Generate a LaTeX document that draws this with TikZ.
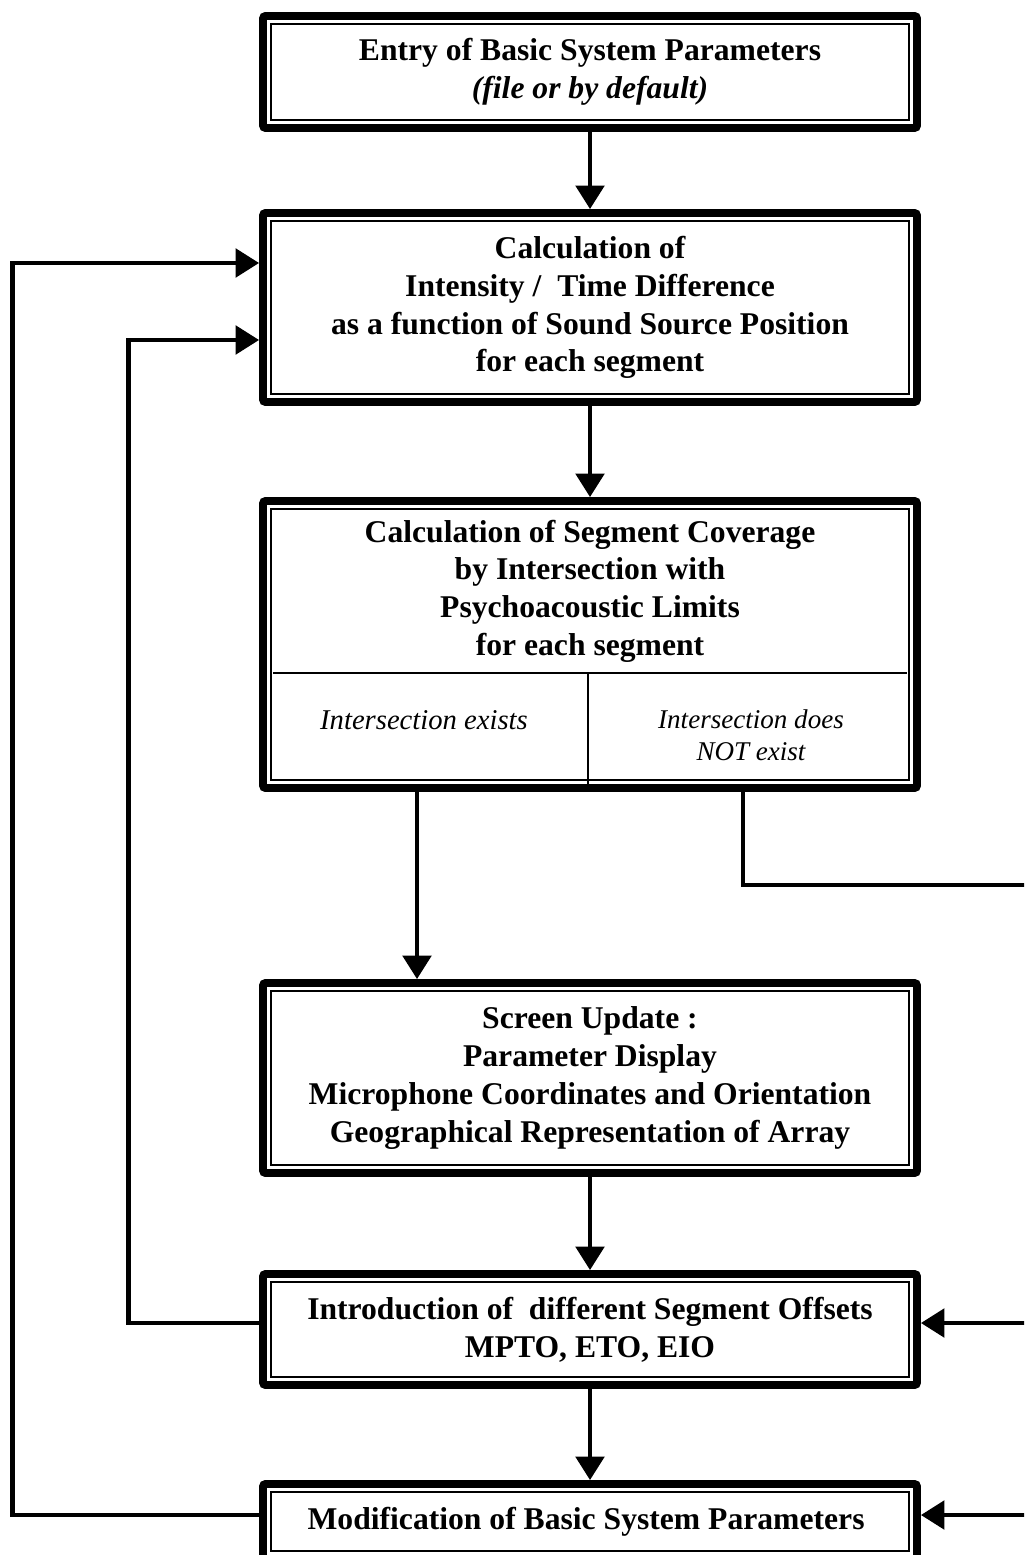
\documentclass[tikz,border=0pt]{standalone}
\usepackage{fontspec}
\setmainfont{Liberation Serif}
\usetikzlibrary{arrows.meta, positioning, calc}

\begin{document}
\begin{tikzpicture}[
    % styles
    stage/.style={
        draw, line width=4.5pt, rounded corners=1.5pt, fill=white, align=center,
        inner sep=0pt, minimum width=13.08cm,
        font=\fontsize{18}{21.5}\selectfont\bfseries,
        path picture={
            \draw[line width=0.8pt, sharp corners]
                ([shift={(4.5pt,-4.5pt)}]path picture bounding box.north west) rectangle
                ([shift={(-4.5pt,4.5pt)}]path picture bounding box.south east);
        }
    },
    title_text/.style={
        align=center, font=\fontsize{18}{21.5}\selectfont\bfseries
    },
    cell_text/.style={
        align=center, font=\fontsize{16.3}{18.5}\selectfont\itshape
    },
    divider/.style={
        line width=0.9pt
    },
    flow/.style={
        -{Triangle[length=0.47cm, width=0.57cm]}, line width=2.3pt
    },
    rail/.style={
        line width=2.3pt
    }
]

    % --- canvas ---
    \useasboundingbox (0,0) rectangle (20.48,-31.1);
    \clip (0,0) rectangle (20.48,-31.1);

    % --- 1. PARAMETER ENTRY ---
    \node[stage, minimum height=2.24cm] (entry) at (11.8,-1.44) {
        Entry of Basic System Parameters\\
        \textit{(file or by default)}
    };

    % --- 2. INTENSITY / TIME CALCULATION ---
    \node[stage, minimum height=3.78cm] (calc) at (11.8,-6.15) {
        Calculation of\\
        Intensity /\enspace Time Difference\\
        as a function of Sound Source Position\\
        for each segment
    };

    % --- 3. SEGMENT COVERAGE (split box) ---
    \node[stage, minimum height=5.74cm] (cov) at (11.8,-12.89) {};
    \node[title_text] (cov_title) at ([yshift=-1.88cm]cov.north) {
        Calculation of Segment Coverage\\
        by Intersection with\\
        Psychoacoustic Limits\\
        for each segment
    };
    \coordinate (cov_split) at ([yshift=-3.52cm]cov.north);
    \draw[divider] ([xshift=8pt]cov.west |- cov_split) -- ([xshift=-8pt]cov.east |- cov_split);
    \draw[divider] ([xshift=-0.04cm]cov_split) -- ([xshift=-0.04cm]cov_split |- cov.south);
    \node[cell_text] (cov_yes) at (8.48,-14.40) {Intersection exists};
    \node[cell_text, font=\fontsize{15.4}{18.5}\selectfont\itshape] (cov_no) at (15.02,-14.70) {
        Intersection does\\
        NOT exist
    };

    % --- 4. SCREEN UPDATE ---
    \node[stage, minimum height=3.80cm] (view) at (11.8,-21.56) {
        Screen Update :\\
        Parameter Display\\
        Microphone Coordinates and Orientation\\
        Geographical Representation of Array
    };

    % --- 5. SEGMENT OFFSETS ---
    \node[stage, minimum height=2.22cm] (offs) at (11.8,-26.59) {
        Introduction of~ different Segment Offsets\\
        MPTO, ETO, EIO
    };

    % --- 6. PARAMETER MODIFICATION ---
    \node[stage, minimum height=1.50cm] (modif) at (11.8,-30.43) {
        Modification of Basic System Parameters
    };

    % Main chain
    \draw[flow] (entry.south) -- (calc.north);
    \draw[flow] (calc.south) -- (cov.north);
    \coordinate (cov_yes_out) at ([xshift=-3.46cm]cov.south);
    \draw[flow] (cov_yes_out) -- (cov_yes_out |- view.north);
    \draw[flow] (view.south) -- (offs.north);
    \draw[flow] (offs.south) -- (modif.north);

    % Feedback loops (left)
    \coordinate (inner_rail) at (2.57,0);
    \coordinate (outer_rail) at (0.25,0);
    \coordinate (calc_in_low) at ([yshift=-0.65cm]calc.west);
    \coordinate (calc_in_high) at ([yshift=0.89cm]calc.west);
    \coordinate (offs_out) at ([yshift=0.13cm]offs.west);
    \coordinate (modif_out) at ([yshift=0.13cm]modif.west);
    \draw[flow] (offs_out) -| (inner_rail |- calc_in_low) -- (calc_in_low);
    \draw[flow] (modif_out) -| (outer_rail |- calc_in_high) -- (calc_in_high);

    % No intersection path (right, runs off the page)
    \coordinate (right_rail) at (21.0,0);
    \coordinate (cov_no_out) at ([xshift=3.06cm]cov.south);
    \coordinate (offs_in) at ([yshift=0.13cm]offs.east);
    \coordinate (modif_in) at ([yshift=0.13cm]modif.east);
    \draw[rail] (cov_no_out) |- (right_rail |- 0,-17.7) -- (right_rail |- modif_in);
    \draw[flow] (right_rail |- offs_in) -- (offs_in);
    \draw[flow] (right_rail |- modif_in) -- (modif_in);

\end{tikzpicture}
\end{document}
